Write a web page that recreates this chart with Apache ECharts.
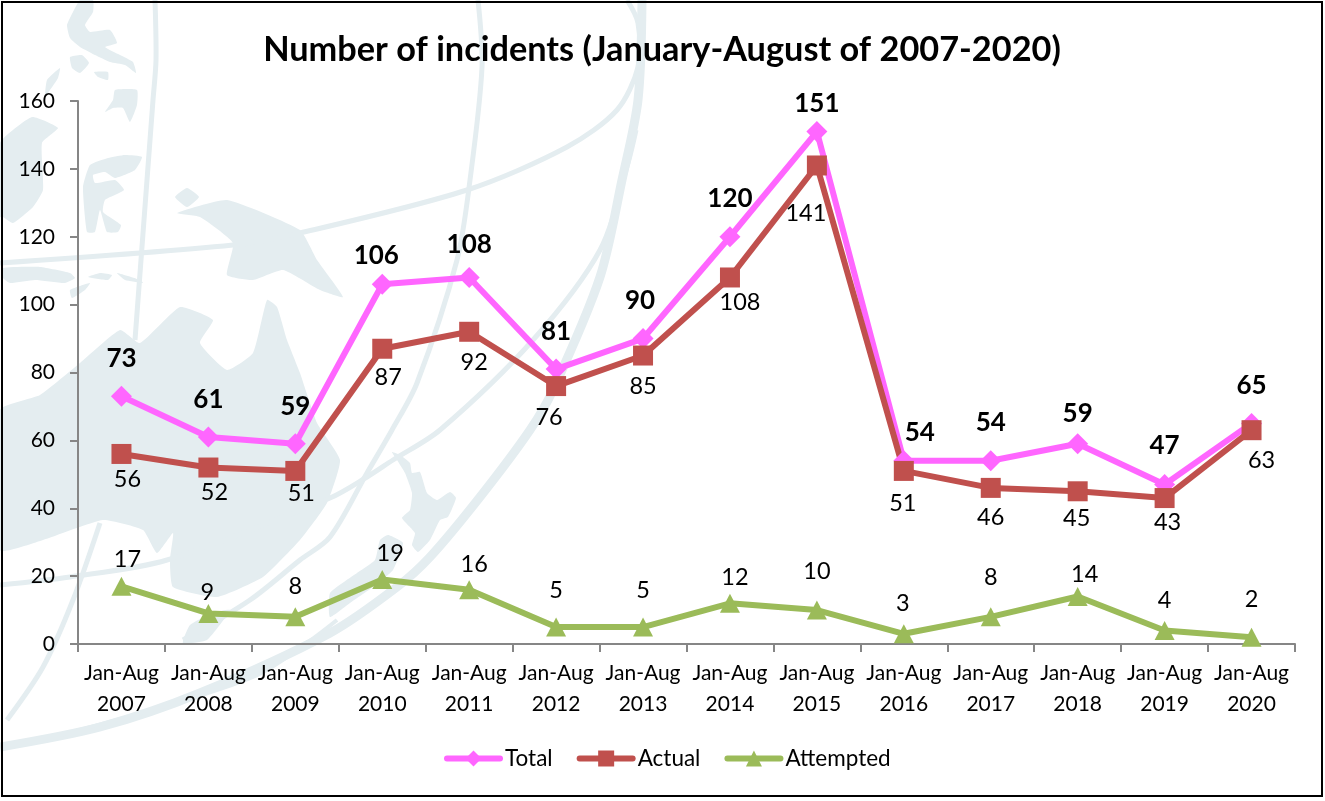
<!DOCTYPE html>
<html>
<head>
<meta charset="utf-8">
<title>Number of incidents</title>
<style>
  html, body { margin: 0; padding: 0; background: #fff; }
  #chart { width: 1325px; height: 801px; }
</style>
<script src="https://cdn.jsdelivr.net/npm/echarts@6/dist/echarts.min.js"></script>
</head>
<body>
<div id="chart"></div>
<script>
const categories = ['Jan-Aug\n2007', 'Jan-Aug\n2008', 'Jan-Aug\n2009', 'Jan-Aug\n2010', 'Jan-Aug\n2011', 'Jan-Aug\n2012', 'Jan-Aug\n2013',
  'Jan-Aug\n2014', 'Jan-Aug\n2015', 'Jan-Aug\n2016', 'Jan-Aug\n2017', 'Jan-Aug\n2018', 'Jan-Aug\n2019', 'Jan-Aug\n2020'];
const total = [73, 61, 59, 106, 108, 81, 90, 120, 151, 54, 54, 59, 47, 65];
const actual = [56, 52, 51, 87, 92, 76, 85, 108, 141, 51, 46, 45, 43, 63];
const attempted = [17, 9, 8, 19, 16, 5, 5, 12, 10, 3, 8, 14, 4, 2];

// hand placed data labels, the source chart moves them around the lines
const totalOffsets = [[0,-38],[0,-37],[0,-37],[-6,-29],[0,-33],[0,-37],[-3,-38],[0,-38],[0,-28],[16,-28],[0,-38],[0,-30],[0,-39],[0,-38]];
const actualOffsets = [[6,25],[6,25],[6,23],[6,29],[5,31],[-7,31],[0,31],[10,25],[-11,48],[-1,33],[0,30],[-1,27],[3,24],[10,30]];
const attemptedOffsets = [[6,-27],[-1,-21],[0,-30],[8,-26],[5,-25],[0,-37],[0,-37],[5,-26],[0,-39],[-1,-30],[0,-39],[7,-22],[0,-30],[0,-38]];

// faint map watermark behind the plot
const mapColor = '#e4edf0';
const landShapes = [
  // Australia, Tasmania
  [[0,410],[40,395],[80,363],[120,330],[140,343],[180,307],[213,320],[200,343],[227,370],[253,353],[267,300],[277,307],[287,340],[300,373],[317,423],[340,460],[327,503],[300,540],[263,577],[217,597],[173,587],[170,560],[173,533],[157,553],[143,530],[103,520],[43,540],[0,550]],
  [[183,643],[190,625],[215,612],[230,610],[207,640]],
  // New Guinea
  [[177,213],[227,200],[300,230],[317,260],[343,297],[320,290],[283,270],[253,280],[227,275],[233,243],[200,217]],
  [[175,197],[187,188],[199,197],[187,207]],
  // Borneo, Sulawesi
  [[0,143],[32,117],[58,128],[42,143],[43,190],[33,207],[13,223],[3,217],[0,217]],
  [[83,187],[90,165],[108,158],[125,155],[142,157],[135,170],[115,178],[105,172],[93,175],[95,183],[115,180],[124,190],[105,200],[103,212],[121,225],[118,232],[107,232],[100,210],[95,232],[87,232]],
  // Philippines
  [[80,0],[93,0],[93,12],[85,25],[90,32],[110,30],[117,43],[105,47],[120,55],[133,62],[136,73],[125,65],[110,62],[95,55],[80,47],[70,38],[67,25],[73,12]],
  [[70,57],[82,55],[89,63],[80,73],[72,68]],
  [[94,72],[108,72],[108,80],[98,77]],
  [[115,90],[137,90],[137,105],[130,122],[123,108],[113,108],[105,112],[113,100]],
  [[47,80],[60,68],[58,78],[50,90],[45,97]],
  // Sunda islands
  [[3,268],[40,267],[70,273],[75,278],[65,283],[35,280],[10,283],[3,278]],
  [[88,277],[100,273],[112,275],[108,280]],
  [[117,273],[140,280],[143,283],[125,280]],
  [[70,290],[90,283],[85,290],[72,298]],
  // New Zealand
  [[392,452],[400,455],[410,463],[412,473],[420,472],[427,493],[437,500],[450,492],[456,498],[448,517],[440,520],[430,540],[418,552],[412,545],[415,533],[402,518],[410,510],[412,493],[405,473],[397,460]],
  [[388,535],[403,543],[393,570],[373,587],[350,603],[330,617],[330,593],[357,573],[375,560],[380,540]]
];
const arcLines = [
  { points: [[0,263],[233,245],[300,233],[467,190],[567,147],[617,110],[638,67],[638,23],[627,0]], width: 5 },
  { points: [[155,0],[156,60],[153,100],[135,340]], width: 5 },
  { points: [[478,0],[482,67],[470,180],[457,260],[417,383],[392,430],[367,473],[330,537],[300,560],[250,600],[183,640]], width: 5 },
  { points: [[0,585],[70,577],[167,560],[330,498],[367,477],[393,460],[440,430],[533,340],[600,250],[628,163],[636,130]], width: 5 },
  { points: [[0,747],[100,727],[200,693],[330,633],[397,587],[430,557],[480,497],[530,430],[553,390],[600,277],[622,180],[638,100],[642,0]], width: 9 },
  { points: [[7,720],[43,667],[73,600],[100,523]], width: 5 },
  { points: [[60,735],[253,677],[337,620]], width: 4 }
];

const withOffsets = (values, offsets) => values.map((v, i) => ({ value: v, label: { offset: offsets[i] } }));

const watermark = [
  ...landShapes.map((pts) => ({
    type: 'polygon', z: -1, silent: true,
    shape: { points: pts, smooth: 0.15 },
    style: { fill: mapColor }
  })),
  ...arcLines.map((a) => ({
    type: 'polyline', z: -1, silent: true,
    shape: { points: a.points, smooth: 0.3 },
    style: { fill: null, stroke: mapColor, lineWidth: a.width }
  })),
  {
    type: 'rect', z: 10, silent: true,
    shape: { x: 2, y: 2, width: 1320, height: 794 },
    style: { fill: null, stroke: '#000', lineWidth: 2 }
  }
];

const myChart = echarts.init(document.getElementById('chart'), null, { renderer: 'canvas' });

myChart.setOption({
  animation: false,
  backgroundColor: '#fff',
  textStyle: { fontFamily: 'Lato', color: '#000' },
  title: {
    text: 'Number of incidents (January-August of 2007-2020)',
    left: 657,
    top: 28,
    textAlign: 'center',
    textStyle: { fontFamily: 'Lato', fontSize: 34.3, fontWeight: 'bold', color: '#000' }
  },
  legend: {
    left: 439,
    top: 742,
    itemWidth: 53,
    itemHeight: 20,
    itemGap: 24,
    lineStyle: { width: 6, cap: 'round' },
    textStyle: { fontFamily: 'Lato', fontSize: 22.5, color: '#000' },
    data: ['Total', 'Actual', 'Attempted']
  },
  grid: { left: 78, right: 30, top: 101, bottom: 157 },
  xAxis: {
    type: 'category',
    data: categories,
    boundaryGap: true,
    axisLine: { lineStyle: { color: '#868686', width: 2 } },
    axisTick: { show: true, length: 8, lineStyle: { color: '#868686', width: 2 } },
    axisLabel: { interval: 0, margin: 14, fontFamily: 'Lato', fontSize: 21, lineHeight: 31, color: '#000' }
  },
  yAxis: {
    type: 'value',
    min: 0,
    max: 160,
    interval: 20,
    splitLine: { show: false },
    axisLine: { show: true, lineStyle: { color: '#868686', width: 2 } },
    axisTick: { show: true, length: 8, lineStyle: { color: '#868686', width: 2 } },
    axisLabel: { margin: 23, fontFamily: 'Lato', fontSize: 21, color: '#000' }
  },
  series: [
    {
      name: 'Total',
      type: 'line',
      data: withOffsets(total, totalOffsets),
      symbol: 'diamond',
      symbolSize: 21,
      showAllSymbol: true,
      lineStyle: { color: '#ff66ff', width: 6 },
      itemStyle: { color: '#ff66ff' },
      label: { show: true, position: 'inside', fontFamily: 'Lato', fontSize: 26, fontWeight: 'bold', color: '#000' }
    },
    {
      name: 'Actual',
      type: 'line',
      data: withOffsets(actual, actualOffsets),
      symbol: 'rect',
      symbolSize: 20,
      showAllSymbol: true,
      lineStyle: { color: '#c0504d', width: 6 },
      itemStyle: { color: '#c0504d' },
      label: { show: true, position: 'inside', fontFamily: 'Lato', fontSize: 23.5, color: '#000' }
    },
    {
      name: 'Attempted',
      type: 'line',
      data: withOffsets(attempted, attemptedOffsets),
      symbol: 'triangle',
      symbolSize: [20, 19],
      showAllSymbol: true,
      lineStyle: { color: '#9bbb59', width: 6 },
      itemStyle: { color: '#9bbb59' },
      label: { show: true, position: 'inside', fontFamily: 'Lato', fontSize: 23.5, color: '#000' }
    }
  ],
  graphic: watermark
});
</script>
</body>
</html>
